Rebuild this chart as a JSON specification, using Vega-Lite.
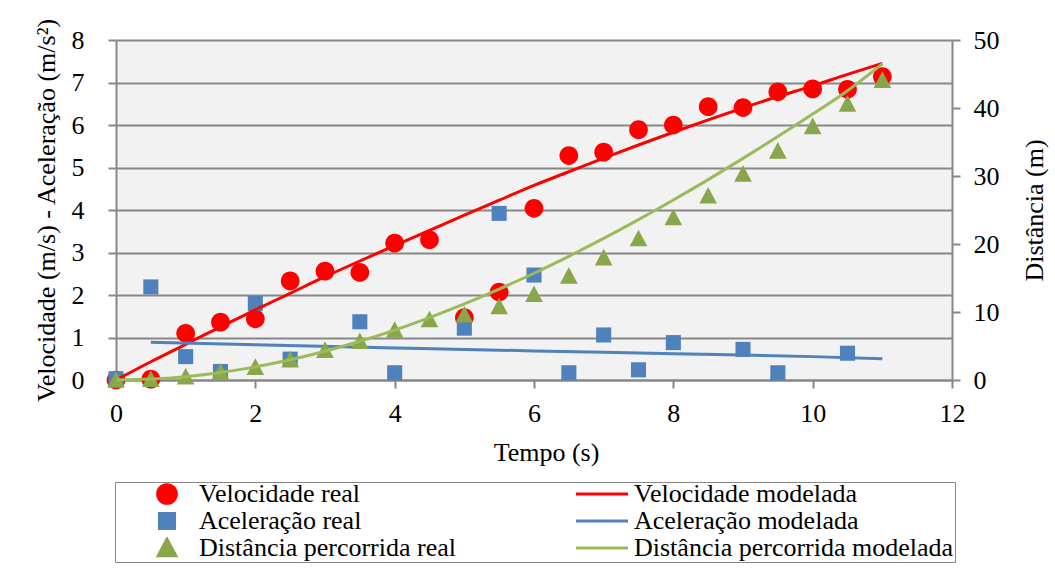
{
  "$schema": "https://vega.github.io/schema/vega-lite/v6.json",
  "width": 836,
  "height": 340,
  "autosize": "none",
  "padding": {"left": 116, "top": 40, "right": 103, "bottom": 196},
  "background": "white",
  "config": {
    "font": "Times New Roman, Liberation Serif, serif",
    "view": {"fill": "#f2f2f2", "stroke": null},
    "axis": {
      "labelFont": "Times New Roman, Liberation Serif, serif", "titleFont": "Times New Roman, Liberation Serif, serif",
      "labelFontSize": 26, "titleFontSize": 26, "titleFontWeight": "normal",
      "labelColor": "black", "titleColor": "black",
      "domainColor": "#878787", "domainWidth": 2,
      "tickColor": "#878787", "tickWidth": 2, "tickSize": 8,
      "gridColor": "#878787", "gridWidth": 2,
      "labelFlush": false, "labelOverlap": false
    },
    "legend": {"labelFont": "Times New Roman, Liberation Serif, serif"}
  },
  "datasets": {
    "pts": [
      {"t": 0, "s": "Velocidade real", "y": 0},
      {"t": 0.5, "s": "Velocidade real", "y": 0.02},
      {"t": 1, "s": "Velocidade real", "y": 1.1},
      {"t": 1.5, "s": "Velocidade real", "y": 1.36},
      {"t": 2, "s": "Velocidade real", "y": 1.44},
      {"t": 2.5, "s": "Velocidade real", "y": 2.33},
      {"t": 3, "s": "Velocidade real", "y": 2.56},
      {"t": 3.5, "s": "Velocidade real", "y": 2.53},
      {"t": 4, "s": "Velocidade real", "y": 3.22},
      {"t": 4.5, "s": "Velocidade real", "y": 3.3},
      {"t": 5, "s": "Velocidade real", "y": 1.47},
      {"t": 5.5, "s": "Velocidade real", "y": 2.07},
      {"t": 6, "s": "Velocidade real", "y": 4.04},
      {"t": 6.5, "s": "Velocidade real", "y": 5.28},
      {"t": 7, "s": "Velocidade real", "y": 5.36},
      {"t": 7.5, "s": "Velocidade real", "y": 5.89},
      {"t": 8, "s": "Velocidade real", "y": 6.0},
      {"t": 8.5, "s": "Velocidade real", "y": 6.43},
      {"t": 9, "s": "Velocidade real", "y": 6.41},
      {"t": 9.5, "s": "Velocidade real", "y": 6.78},
      {"t": 10, "s": "Velocidade real", "y": 6.85},
      {"t": 10.5, "s": "Velocidade real", "y": 6.84},
      {"t": 11, "s": "Velocidade real", "y": 7.14},
      {"t": 0, "s": "Aceleração real", "y": 0.03},
      {"t": 0.5, "s": "Aceleração real", "y": 2.19},
      {"t": 1, "s": "Aceleração real", "y": 0.55},
      {"t": 1.5, "s": "Aceleração real", "y": 0.2},
      {"t": 2, "s": "Aceleração real", "y": 1.8},
      {"t": 2.5, "s": "Aceleração real", "y": 0.49},
      {"t": 3.5, "s": "Aceleração real", "y": 1.37},
      {"t": 4, "s": "Aceleração real", "y": 0.17},
      {"t": 5, "s": "Aceleração real", "y": 1.22},
      {"t": 5.5, "s": "Aceleração real", "y": 3.92},
      {"t": 6, "s": "Aceleração real", "y": 2.47},
      {"t": 6.5, "s": "Aceleração real", "y": 0.17},
      {"t": 7, "s": "Aceleração real", "y": 1.06},
      {"t": 7.5, "s": "Aceleração real", "y": 0.24},
      {"t": 8, "s": "Aceleração real", "y": 0.88},
      {"t": 9, "s": "Aceleração real", "y": 0.72},
      {"t": 9.5, "s": "Aceleração real", "y": 0.17},
      {"t": 10.5, "s": "Aceleração real", "y": 0.63},
      {"t": 0, "s": "Distância percorrida real", "y": 0},
      {"t": 0.5, "s": "Distância percorrida real", "y": 0.1},
      {"t": 1, "s": "Distância percorrida real", "y": 0.5},
      {"t": 1.5, "s": "Distância percorrida real", "y": 1.2},
      {"t": 2, "s": "Distância percorrida real", "y": 1.9},
      {"t": 2.5, "s": "Distância percorrida real", "y": 3.0},
      {"t": 3, "s": "Distância percorrida real", "y": 4.4},
      {"t": 3.5, "s": "Distância percorrida real", "y": 5.7},
      {"t": 4, "s": "Distância percorrida real", "y": 7.35},
      {"t": 4.5, "s": "Distância percorrida real", "y": 8.9},
      {"t": 5, "s": "Distância percorrida real", "y": 9.6},
      {"t": 5.5, "s": "Distância percorrida real", "y": 10.8},
      {"t": 6, "s": "Distância percorrida real", "y": 12.6},
      {"t": 6.5, "s": "Distância percorrida real", "y": 15.3},
      {"t": 7, "s": "Distância percorrida real", "y": 18.0},
      {"t": 7.5, "s": "Distância percorrida real", "y": 20.8},
      {"t": 8, "s": "Distância percorrida real", "y": 23.9},
      {"t": 8.5, "s": "Distância percorrida real", "y": 27.1},
      {"t": 9, "s": "Distância percorrida real", "y": 30.3},
      {"t": 9.5, "s": "Distância percorrida real", "y": 33.7},
      {"t": 10, "s": "Distância percorrida real", "y": 37.3},
      {"t": 10.5, "s": "Distância percorrida real", "y": 40.6},
      {"t": 11, "s": "Distância percorrida real", "y": 44.1}
    ],
    "mod": [
      {"t": 0, "s": "Velocidade modelada", "y": 0},
      {"t": 0.5, "s": "Velocidade modelada", "y": 0.43},
      {"t": 1, "s": "Velocidade modelada", "y": 0.84},
      {"t": 1.5, "s": "Velocidade modelada", "y": 1.25},
      {"t": 2, "s": "Velocidade modelada", "y": 1.65},
      {"t": 2.5, "s": "Velocidade modelada", "y": 2.04},
      {"t": 3, "s": "Velocidade modelada", "y": 2.43},
      {"t": 3.5, "s": "Velocidade modelada", "y": 2.8},
      {"t": 4, "s": "Velocidade modelada", "y": 3.16},
      {"t": 4.5, "s": "Velocidade modelada", "y": 3.52},
      {"t": 5, "s": "Velocidade modelada", "y": 3.88},
      {"t": 5.5, "s": "Velocidade modelada", "y": 4.23},
      {"t": 6, "s": "Velocidade modelada", "y": 4.58},
      {"t": 6.5, "s": "Velocidade modelada", "y": 4.9},
      {"t": 7, "s": "Velocidade modelada", "y": 5.22},
      {"t": 7.5, "s": "Velocidade modelada", "y": 5.53},
      {"t": 8, "s": "Velocidade modelada", "y": 5.83},
      {"t": 8.5, "s": "Velocidade modelada", "y": 6.12},
      {"t": 9, "s": "Velocidade modelada", "y": 6.4},
      {"t": 9.5, "s": "Velocidade modelada", "y": 6.67},
      {"t": 10, "s": "Velocidade modelada", "y": 6.92},
      {"t": 10.5, "s": "Velocidade modelada", "y": 7.19},
      {"t": 11, "s": "Velocidade modelada", "y": 7.45},
      {"t": 0.5, "s": "Aceleração modelada", "y": 0.89},
      {"t": 2, "s": "Aceleração modelada", "y": 0.83},
      {"t": 4, "s": "Aceleração modelada", "y": 0.755},
      {"t": 6, "s": "Aceleração modelada", "y": 0.685},
      {"t": 8, "s": "Aceleração modelada", "y": 0.62},
      {"t": 10, "s": "Aceleração modelada", "y": 0.55},
      {"t": 11, "s": "Aceleração modelada", "y": 0.5},
      {"t": 0, "s": "Distância percorrida modelada", "y": 0},
      {"t": 0.5, "s": "Distância percorrida modelada", "y": 0.13},
      {"t": 1, "s": "Distância percorrida modelada", "y": 0.49},
      {"t": 1.5, "s": "Distância percorrida modelada", "y": 1.1},
      {"t": 2, "s": "Distância percorrida modelada", "y": 1.93},
      {"t": 2.5, "s": "Distância percorrida modelada", "y": 2.97},
      {"t": 3, "s": "Distância percorrida modelada", "y": 4.23},
      {"t": 3.5, "s": "Distância percorrida modelada", "y": 5.69},
      {"t": 4, "s": "Distância percorrida modelada", "y": 7.34},
      {"t": 4.5, "s": "Distância percorrida modelada", "y": 9.18},
      {"t": 5, "s": "Distância percorrida modelada", "y": 11.19},
      {"t": 5.5, "s": "Distância percorrida modelada", "y": 13.37},
      {"t": 6, "s": "Distância percorrida modelada", "y": 15.7},
      {"t": 6.5, "s": "Distância percorrida modelada", "y": 18.19},
      {"t": 7, "s": "Distância percorrida modelada", "y": 20.82},
      {"t": 7.5, "s": "Distância percorrida modelada", "y": 23.58},
      {"t": 8, "s": "Distância percorrida modelada", "y": 26.47},
      {"t": 8.5, "s": "Distância percorrida modelada", "y": 29.47},
      {"t": 9, "s": "Distância percorrida modelada", "y": 32.59},
      {"t": 9.5, "s": "Distância percorrida modelada", "y": 35.8},
      {"t": 10, "s": "Distância percorrida modelada", "y": 39.1},
      {"t": 10.5, "s": "Distância percorrida modelada", "y": 42.55},
      {"t": 11, "s": "Distância percorrida modelada", "y": 46.5}
    ]
  },
  "encoding": {
    "x": {"field": "t", "type": "quantitative", "scale": {"domain": [0, 12]},
          "axis": {"values": [0, 2, 4, 6, 8, 10, 12], "title": "Tempo (s)", "grid": false, "labelPadding": 12, "titlePadding": 13, "titleX": 430}}
  },
  "layer": [
    {
      "encoding": {
        "y": {"field": "y", "type": "quantitative", "scale": {"domain": [0, 8]},
              "axis": {"values": [0, 1, 2, 3, 4, 5, 6, 7, 8], "title": "Velocidade (m/s)  -  Aceleração (m/s²)", "grid": true, "labelPadding": 24, "titlePadding": 12}}
      },
      "layer": [
        {
          "data": {"name": "pts"},
          "transform": [{"filter": {"field": "s", "oneOf": ["Velocidade real", "Aceleração real"]}}],
          "mark": {"type": "point", "filled": true, "size": 2704, "opacity": 1, "strokeWidth": 0},
          "encoding": {
            "color": {"field": "s", "type": "nominal",
              "scale": {"domain": ["Velocidade real", "Velocidade modelada", "Aceleração real", "Aceleração modelada", "Distância percorrida real", "Distância percorrida modelada"],
                        "range": ["#ff0000", "#ff0000", "#4f81bd", "#4f81bd", "#8aa64a", "#9bbb59"]},
              "legend": {"title": null, "orient": "none", "direction": "horizontal", "legendX": -1, "legendY": 442, "columns": 2, "columnPadding": 95, "rowPadding": 1, "clipHeight": 22,
                         "symbolSize": 2704, "symbolStrokeWidth": 3, "symbolOffset": 23.5, "labelOffset": 4.5,
                         "labelFont": "Times New Roman, Liberation Serif, serif", "labelFontSize": 26, "labelColor": "black", "labelLimit": 600,
                         "padding": 1, "strokeColor": "#878787", "fillColor": "white",
                         "encoding": {"symbols": {"stroke": {"value": {"expr": "indexof(datum.value, 'modelada') >= 0 ? scale('color', datum.value) : 'transparent'"}}, "strokeWidth": {"value": 3}, "opacity": {"value": 1}}}}},
            "shape": {"field": "s", "type": "nominal",
              "scale": {"domain": ["Velocidade real", "Velocidade modelada", "Aceleração real", "Aceleração modelada", "Distância percorrida real", "Distância percorrida modelada"],
                        "range": ["M-0.36,0A0.36,0.36 0 1,0 0.36,0A0.36,0.36 0 1,0 -0.36,0Z", "stroke", "M-0.29,-0.29H0.29V0.29H-0.29Z", "stroke", "M0,-0.34L0.34,0.3L-0.34,0.3Z", "stroke"]},
              "legend": {"title": null, "orient": "none", "direction": "horizontal", "legendX": -1, "legendY": 442, "columns": 2, "columnPadding": 95, "rowPadding": 1, "clipHeight": 22,
                         "symbolSize": 2704, "symbolStrokeWidth": 3, "symbolOffset": 23.5, "labelOffset": 4.5,
                         "labelFont": "Times New Roman, Liberation Serif, serif", "labelFontSize": 26, "labelColor": "black", "labelLimit": 600,
                         "padding": 1, "strokeColor": "#878787", "fillColor": "white"}}
          }
        },
        {
          "data": {"name": "mod"},
          "transform": [{"filter": {"field": "s", "oneOf": ["Velocidade modelada", "Aceleração modelada"]}}],
          "mark": {"type": "line", "strokeWidth": 3, "interpolate": "monotone"},
          "encoding": {
            "color": {"field": "s", "type": "nominal", "legend": null}
          }
        }
      ]
    },
    {
      "encoding": {
        "y": {"field": "y", "type": "quantitative", "scale": {"domain": [0, 50]},
              "axis": {"orient": "right", "values": [0, 10, 20, 30, 40, 50], "title": "Distância (m)", "grid": false, "labelPadding": 13, "titleAngle": 270, "titleBaseline": "top", "titlePadding": 22}}
      },
      "layer": [
        {
          "data": {"name": "pts"},
          "transform": [{"filter": {"field": "s", "equal": "Distância percorrida real"}}],
          "mark": {"type": "point", "filled": true, "size": 2704, "opacity": 1, "strokeWidth": 0},
          "encoding": {
            "color": {"field": "s", "type": "nominal", "legend": null},
            "shape": {"field": "s", "type": "nominal", "legend": null}
          }
        },
        {
          "data": {"name": "mod"},
          "transform": [{"filter": {"field": "s", "equal": "Distância percorrida modelada"}}],
          "mark": {"type": "line", "strokeWidth": 3, "interpolate": "monotone"},
          "encoding": {
            "color": {"field": "s", "type": "nominal", "legend": null}
          }
        }
      ]
    }
  ],
  "resolve": {"scale": {"y": "independent"}}
}
